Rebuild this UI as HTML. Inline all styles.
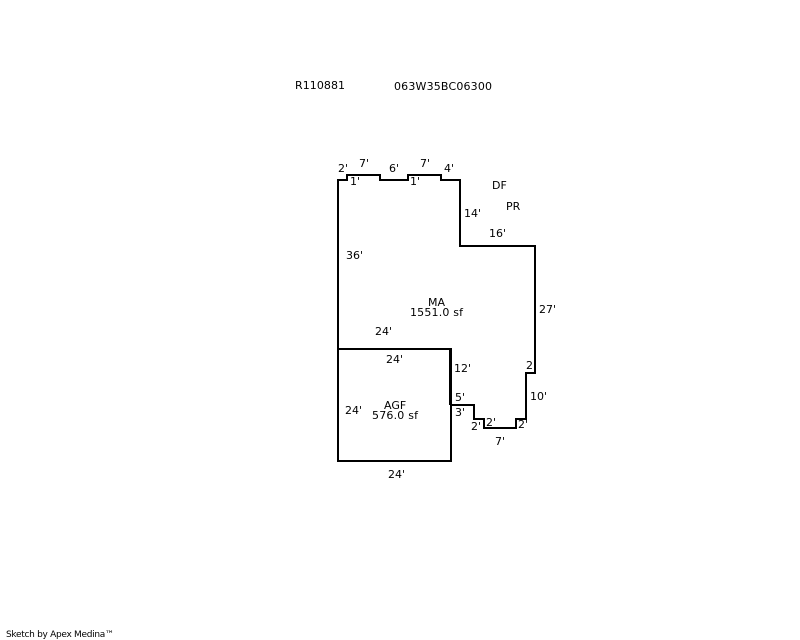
<!DOCTYPE html>
<html>
<head>
<meta charset="utf-8">
<style>
html,body{margin:0;padding:0;background:#fff;width:800px;height:640px;overflow:hidden}
svg{display:block}
text{font-family:"DejaVu Sans",sans-serif;font-size:11px;fill:#000}
</style>
</head>
<body>
<svg width="800" height="640" viewBox="0 0 800 640" xmlns="http://www.w3.org/2000/svg">
<g fill="none" stroke="#000" stroke-width="2" shape-rendering="crispEdges" stroke-linejoin="miter">
<path d="M338 349V180H347V175H380V180H408V175H441V180H460V246H535V373H526V419H516V428H484V419H474V405H451"/>
<path d="M338 349H451V461H338Z"/>
<path d="M449.5 349V405" stroke-width="1"/>
</g>
<text x="295" y="89" textLength="50">R110881</text>
<text x="394" y="90" textLength="98">063W35BC06300</text>
<text x="338" y="172">2'</text>
<text x="359" y="167">7'</text>
<text x="389" y="172">6'</text>
<text x="420" y="167">7'</text>
<text x="444" y="172">4'</text>
<text x="350" y="185">1'</text>
<text x="410" y="185">1'</text>
<text x="492" y="189">DF</text>
<text x="506" y="210">PR</text>
<text x="464" y="217">14'</text>
<text x="489" y="237">16'</text>
<text x="346" y="259">36'</text>
<text x="428" y="306">MA</text>
<text x="410" y="316" textLength="53">1551.0 sf</text>
<text x="539" y="313">27'</text>
<text x="375" y="335">24'</text>
<text x="386" y="363">24'</text>
<text x="454" y="372">12'</text>
<text x="526" y="369">2'</text>
<text x="530" y="400">10'</text>
<text x="455" y="401">5'</text>
<text x="455" y="416">3'</text>
<text x="384" y="409">AGF</text>
<text x="372" y="419" textLength="46">576.0 sf</text>
<text x="345" y="414">24'</text>
<text x="471" y="430">2'</text>
<text x="486" y="426">2'</text>
<text x="518" y="428">2'</text>
<text x="495" y="445">7'</text>
<text x="388" y="478">24'</text>
<text x="6" y="637" style="font-size:9px" textLength="108">Sketch by Apex Medina™</text>
</svg>
</body>
</html>
